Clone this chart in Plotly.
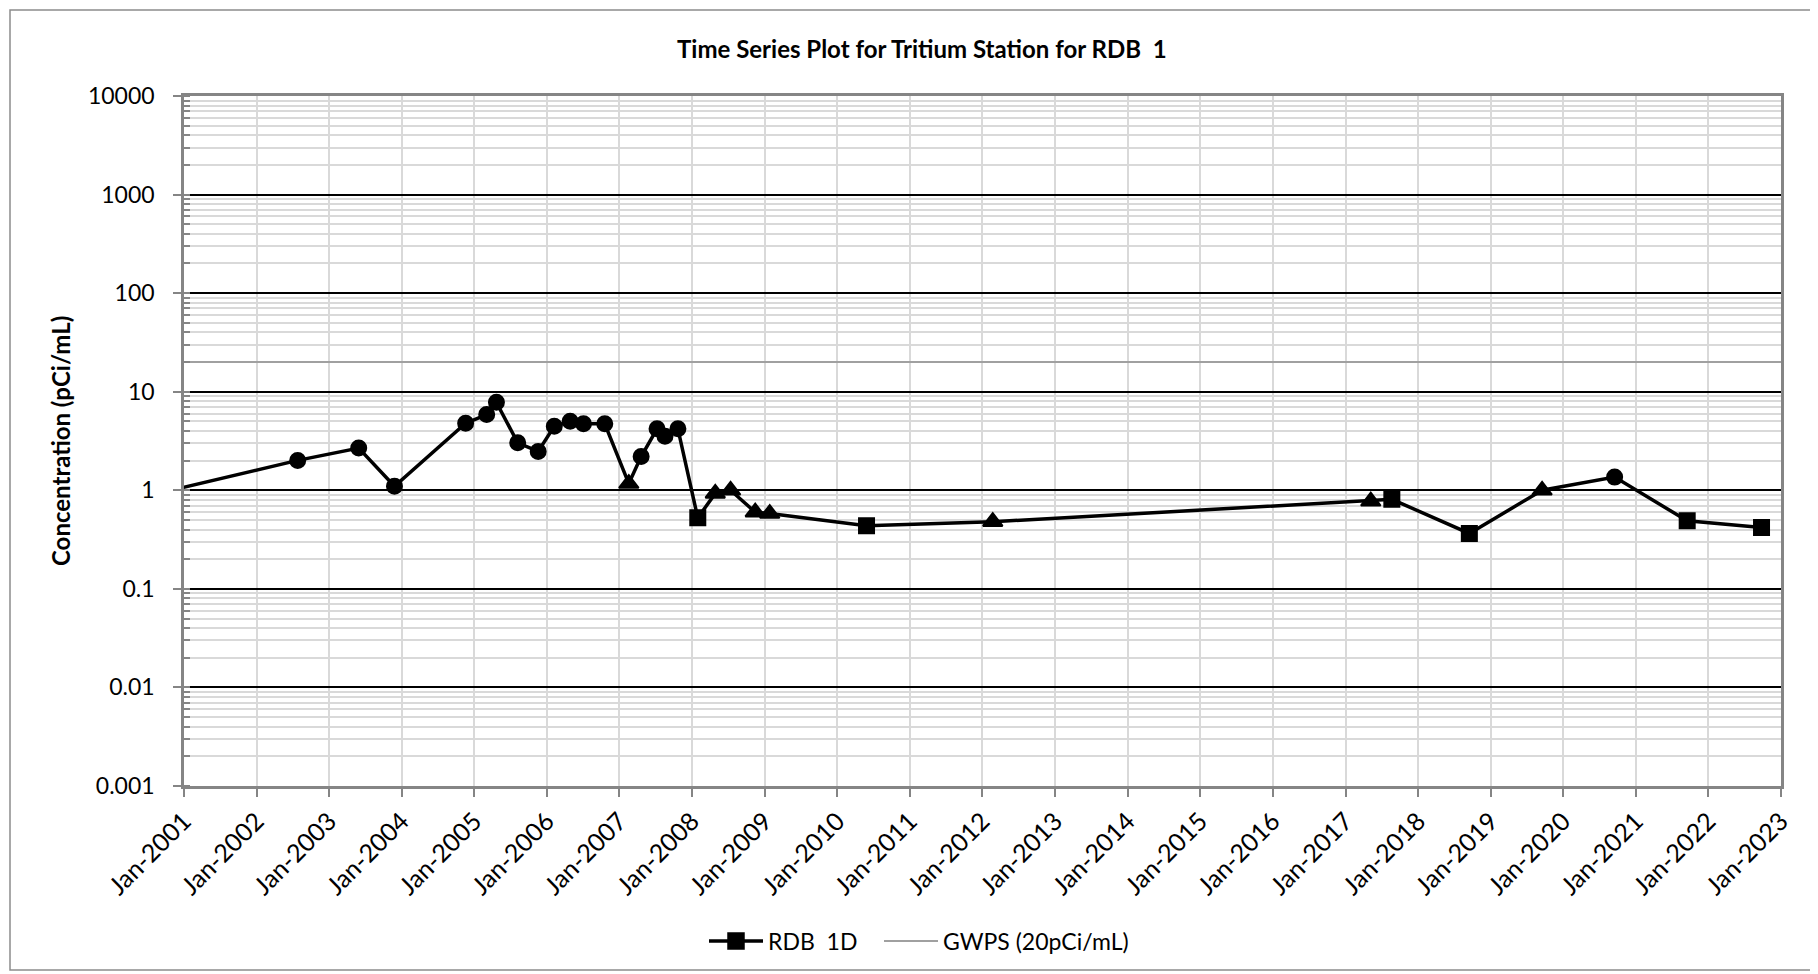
import plotly.graph_objects as go

# ---- data ----
dates = [
    "2000-01-15",
    "2002-07-27", "2003-05-30", "2003-11-26", "2004-11-18", "2005-03-04",
    "2005-04-22", "2005-08-07", "2005-11-18", "2006-02-07", "2006-04-28",
    "2006-07-04", "2006-10-19", "2007-02-17", "2007-04-20", "2007-07-09",
    "2007-08-18", "2007-10-22", "2008-01-30", "2008-04-27", "2008-07-13",
    "2008-11-14", "2009-01-26", "2010-05-28", "2012-02-22", "2017-05-08",
    "2017-08-22", "2018-09-16", "2019-09-17", "2020-09-16", "2021-09-16",
    "2022-09-25",
]
values = [
    0.73,
    2.01, 2.68, 1.10, 4.78, 5.86,
    7.8, 3.03, 2.48, 4.46, 5.01,
    4.72, 4.72, 1.17, 2.2, 4.2,
    3.54, 4.2, 0.525, 0.93, 1.0,
    0.60, 0.58, 0.436, 0.48, 0.774,
    0.81, 0.365, 1.0, 1.36, 0.49,
    0.42,
]
symbols = [
    "square",
    "circle", "circle", "circle", "circle", "circle",
    "circle", "circle", "circle", "circle", "circle",
    "circle", "circle", "triangle-up", "circle", "circle",
    "circle", "circle", "square", "triangle-up", "triangle-up",
    "triangle-up", "triangle-up", "square", "triangle-up", "triangle-up",
    "square", "square", "triangle-up", "circle", "square",
    "square",
]
gwps_x = ["2001-01-01", "2023-01-01"]
gwps_y = [20, 20]

y_tickvals = [0.001, 0.01, 0.1, 1, 10, 100, 1000, 10000]
y_ticktext = ["0.001", "0.01", "0.1", "1", "10", "100", "1000", "10000"]

FONT = "Lato"
SIZE_BY_SYMBOL = {"circle": 15, "square": 15, "triangle-up": 17}
sizes = [SIZE_BY_SYMBOL[s] for s in symbols]

# page geometry (body has an 8px margin)
PL, PR, PT, PB = 184, 1781, 96, 786
W, H = 1818, 974
pw, ph = PR - PL, PB - PT

fig = go.Figure()
fig.add_trace(go.Scatter(
    x=dates, y=values, mode="lines+markers", name="RDB\u00a0 1D",
    line=dict(color="black", width=3.5),
    marker=dict(symbol=symbols, size=sizes, color="black", opacity=1,
                line=dict(color="black", width=2)),
    legend="legend",
))
fig.add_trace(go.Scatter(
    x=gwps_x, y=gwps_y, mode="lines", name="GWPS (20pCi/mL)",
    line=dict(color="#a0a0a0", width=2),
    legend="legend2",
))

leg_y = (PB - 941) / ph
fig.update_layout(
    width=W, height=H,
    paper_bgcolor="white", plot_bgcolor="white",
    margin=dict(l=PL - 8, r=W + 8 - PR, t=PT - 8, b=H + 8 - PB),
    font=dict(family=FONT, color="black", size=21),
    showlegend=True,
    legend=dict(orientation="h", x=(704 - PL) / pw, y=leg_y, xanchor="left", yanchor="middle",
                font=dict(size=23, family=FONT), bgcolor="rgba(0,0,0,0)", itemwidth=54),
    legend2=dict(orientation="h", x=(879 - PL) / pw, y=leg_y, xanchor="left", yanchor="middle",
                 font=dict(size=23, family=FONT), bgcolor="rgba(0,0,0,0)", itemwidth=54),
)

fig.update_xaxes(
    type="date",
    range=["2001-01-01", "2023-01-01"],
    dtick="M12", tick0="2001-01-01", tickformat="Jan-%Y",
    tickangle=-45,
    tickfont=dict(size=25, family=FONT),
    showgrid=True, gridcolor="#d9d9d9", gridwidth=2,
    ticks="outside", ticklen=8, tickwidth=2, tickcolor="#858585",
    showline=True, linecolor="#858585", linewidth=2.5, mirror=True,
    zeroline=False,
)
fig.update_yaxes(
    type="log", range=[-3, 4],
    tickmode="array", tickvals=y_tickvals, ticktext=y_ticktext,
    tickfont=dict(size=23, family=FONT),
    showgrid=True, gridcolor="black", gridwidth=2,
    ticks="outside", ticklen=8, tickwidth=2, tickcolor="#858585",
    ticklabelstandoff=14,
    minor=dict(dtick="D1", ticks="inside", ticklen=6, tickcolor="#858585", tickwidth=1.5,
               showgrid=True, gridcolor="#d9d9d9", gridwidth=1.5),
    showline=True, linecolor="#858585", linewidth=2.5, mirror=True,
    zeroline=False,
)

# title
fig.add_annotation(
    text="<b>Time Series Plot for Tritium Station for RDB\u00a0 1</b>",
    xref="paper", yref="paper", x=(921.7 - PL) / pw, y=(PB - 48.7) / ph,
    xanchor="center", yanchor="middle", showarrow=False,
    font=dict(size=24, family=FONT),
)
# y-axis title
fig.add_annotation(
    text="<b>Concentration (pCi/mL)</b>",
    xref="paper", yref="paper", x=(60 - PL) / pw, y=0.5,
    xanchor="center", yanchor="middle", textangle=-90, showarrow=False,
    font=dict(size=24, family=FONT),
)
# outer chart frame
fig.add_shape(
    type="rect", xref="paper", yref="paper",
    x0=(10 - PL) / pw, x1=(1814 - PL) / pw,
    y0=(PB - 970) / ph, y1=(PB - 10) / ph,
    line=dict(color="#8c8c8c", width=1.5), fillcolor="rgba(0,0,0,0)", layer="below",
)

fig.write_html("out.html")
